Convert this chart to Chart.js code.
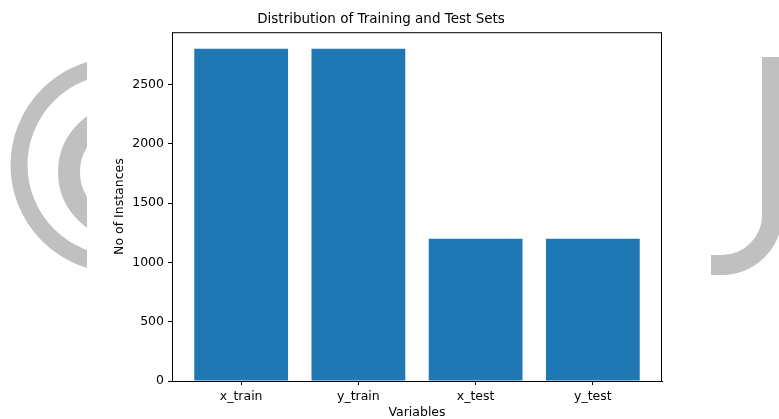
<!DOCTYPE html>
<html>
<head>
<meta charset="utf-8">
<script src="https://cdn.jsdelivr.net/npm/chart.js@4"></script>
<style>
  body { margin: 0; background: #fff; }
  #wrap { position: relative; width: 779px; height: 419px; overflow: hidden; }
  #bg, #panel, #chart { position: absolute; top: 0; left: 0; }
  #panel { left: 87px; width: 624px; height: 419px; background: #fff; }
</style>
</head>
<body>
<div id="wrap">
  <!-- watermark behind the figure -->
  <svg id="bg" width="779" height="419">
    <circle cx="118" cy="165" r="99" fill="none" stroke="#c0c0c0" stroke-width="17"/>
    <circle cx="126" cy="172" r="57" fill="none" stroke="#c0c0c0" stroke-width="22"/>
    <path d="M 772 57 V 215 A 50 50 0 0 1 722 265 H 700" fill="none" stroke="#c0c0c0" stroke-width="20"/>
  </svg>
  <div id="panel"></div>
  <canvas id="chart" width="779" height="419"></canvas>
</div>
<script>
// ============ Data ============
const categories = ['x_train', 'y_train', 'x_test', 'y_test'];
const counts = [2800, 2800, 1200, 1200];
const yTicks = [0, 500, 1000, 1500, 2000, 2500];

// full box around the plot area (matplotlib spines)
const frame = {
    id: 'frame',
    afterDraw(chart) {
        const { ctx, chartArea: a } = chart;
        ctx.save();
        ctx.strokeStyle = '#000';
        ctx.lineWidth = 1;
        ctx.strokeRect(a.left + 0.5, a.top + 0.5, a.right - a.left - 1, a.bottom - a.top);
        ctx.restore();
    }
};

const font = { family: 'DejaVu Sans', size: 12.5 };

new Chart(document.getElementById('chart'), {
    type: 'bar',
    data: {
        datasets: [{
            data: counts.map((v, i) => ({ x: i, y: v })),
            backgroundColor: '#1f77b4',
            borderWidth: 0,
            categoryPercentage: 1,
            barPercentage: 0.8
        }]
    },
    options: {
        responsive: false,
        animation: false,
        layout: { padding: { left: 100, right: 117, top: 0, bottom: 0 } },
        plugins: {
            legend: { display: false },
            tooltip: { enabled: false },
            title: {
                display: true,
                text: 'Distribution of Training and Test Sets',
                color: '#000',
                font: { family: 'DejaVu Sans', size: 13.5, weight: 'normal', lineHeight: 1.2 },
                padding: { top: 11, bottom: 5 }
            }
        },
        scales: {
            x: {
                type: 'linear',
                offset: false,
                min: -0.59,
                max: categories.length - 1 + 0.59,
                afterBuildTicks: (axis) => { axis.ticks = categories.map((c, i) => ({ value: i })); },
                afterFit: (axis) => { axis.height = 38; },
                ticks: {
                    callback: (v) => categories[v] ?? '',
                    color: '#000',
                    font: font,
                    padding: 4,
                    maxRotation: 0
                },
                grid: { offset: false, drawOnChartArea: false, drawTicks: true, tickLength: 4, color: '#000' },
                border: { color: '#000' },
                title: {
                    display: true,
                    text: 'Variables',
                    color: '#000',
                    font: font,
                    padding: { top: 0, bottom: -1 }
                }
            },
            y: {
                min: 0,
                max: 2940,
                afterBuildTicks: (axis) => { axis.ticks = yTicks.map((v) => ({ value: v })); },
                afterFit: (axis) => { axis.width = 72; },
                ticks: { color: '#000', font: font, padding: 4, callback: (v) => String(v) },
                grid: { drawOnChartArea: false, drawTicks: true, tickLength: 4, color: '#000' },
                border: { color: '#000' },
                title: {
                    display: true,
                    text: 'No of Instances',
                    color: '#000',
                    font: font,
                    padding: { top: 12, bottom: 0 }
                }
            }
        }
    },
    plugins: [frame]
});
</script>
</body>
</html>
